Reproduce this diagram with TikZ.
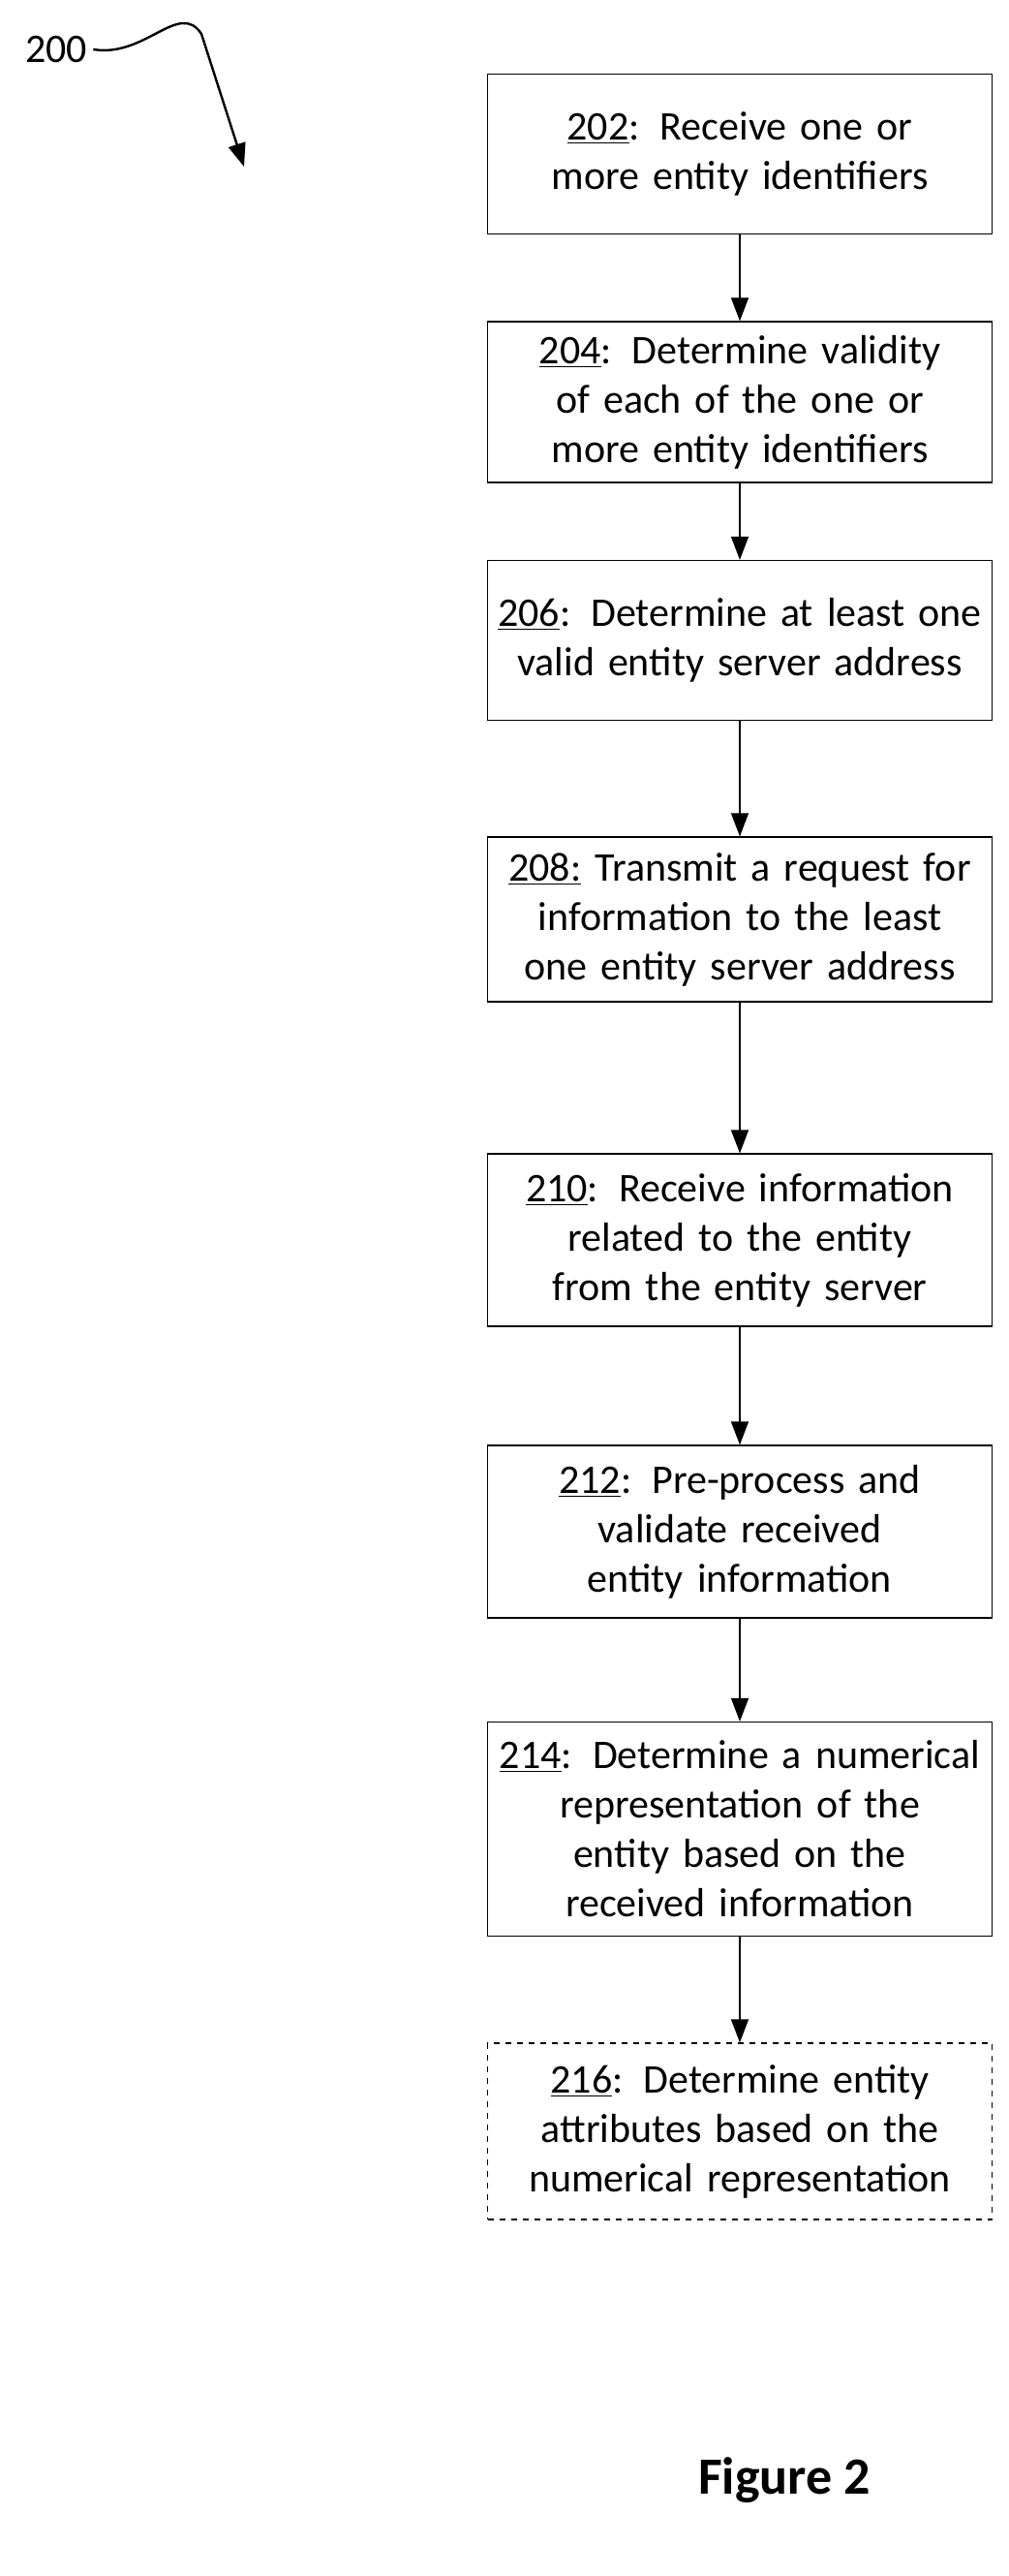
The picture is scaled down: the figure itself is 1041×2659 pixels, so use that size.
\documentclass[tikz,border=0pt]{standalone}
\usepackage{fontspec}
\setmainfont{Carlito}
\usetikzlibrary{positioning,calc,arrows.meta}

\begin{document}
\begin{tikzpicture}[x=0.5pt, y=-0.5pt]

% Define styles
\tikzstyle{stepbox} = [rectangle, draw=black, line width=0.6pt, minimum width=260.5pt, text width=250pt, align=center, font=\fontsize{21}{25.5}\selectfont, inner sep=0pt]
\tikzstyle{optbox} = [stepbox, dashed]
\tikzstyle{arrow} = [line width=0.6pt, -{Triangle[length=12pt, width=9pt]}]

\useasboundingbox (0,0) rectangle (1041,2659);

% Steps
\node (s202) [stepbox, minimum height=82.5pt] at (764,159) {\underline{202}: Receive one or more entity identifiers};
\node (s204) [stepbox, minimum height=83pt] at (764,415) {\underline{204}: Determine validity of each of the one or more entity identifiers};
\node (s206) [stepbox, minimum height=82.5pt] at (764,661) {\underline{206}: Determine at least one valid entity server address};
\node (s208) [stepbox, minimum height=85pt] at (764,949) {\underline{208:} Transmit a request for information to the least one entity server address};
\node (s210) [stepbox, minimum height=89pt] at (764,1280) {\underline{210}: Receive information related to the entity from the entity server};
\node (s212) [stepbox, minimum height=89pt] at (764,1581) {\underline{212}: Pre-process and validate received entity information};
\node (s214) [stepbox, minimum height=110.5pt] at (764,1888) {\underline{214}: Determine a numerical representation of the entity based on the received information};
\node (s216) [optbox, minimum height=91pt] at (764,2200) {\underline{216}: Determine entity attributes based on the numerical representation};

% Connections
\draw [arrow] (s202) -- (s204);
\draw [arrow] (s204) -- (s206);
\draw [arrow] (s206) -- (s208);
\draw [arrow] (s208) -- (s210);
\draw [arrow] (s210) -- (s212);
\draw [arrow] (s212) -- (s214);
\draw [arrow] (s214) -- (s216);

% Reference label
\node (ref) [font=\fontsize{21}{25.5}\selectfont, inner sep=0pt] at (58,51) {200};
\coordinate (reftip) at (252,172);
\draw [line width=1.2pt, -{Triangle[length=12pt, width=9pt]}] (ref.east) ++(6,0) .. controls (150,60) and (185,0) .. (208,35) -- (reftip);

% Caption
\node (caption) [font=\fontsize{27}{32}\selectfont\bfseries] at (810,2560) {Figure 2};

\end{tikzpicture}
\end{document}
